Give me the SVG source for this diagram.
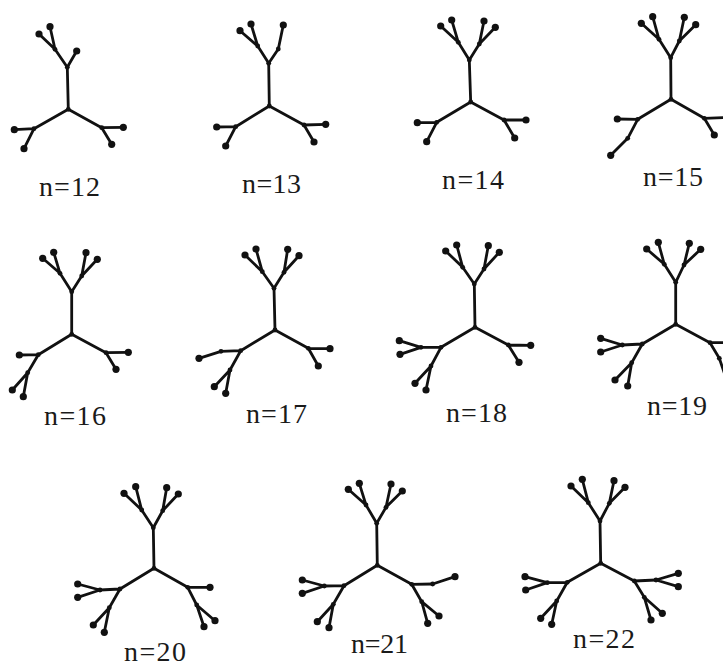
<svg xmlns="http://www.w3.org/2000/svg" width="723" height="666" viewBox="0 0 723 666">
<style>
.e{stroke:#111;stroke-width:2.8;fill:none;stroke-linecap:round;stroke-linejoin:round}
.in circle{fill:#111;r:2.4px}
.lf circle{fill:#111;r:3.6px}
.lbl{font-family:"Liberation Serif","Times New Roman",serif;font-size:28px;fill:#1a1a1a}
</style>
<rect width="723" height="666" fill="#fff"/>
<g id="connectors">
<path class="e" d="M68.3,109.3L67.3,67.3L55,49.3L39,34M55,49.3L50,26.7M67.3,67.3L76.7,51M68.3,109.3L34,128.7L14.3,129.7M34,128.7L24,148.7M68.3,109.3L101.7,127.7L123.3,127.3M101.7,127.7L111.7,144.3"/>
<path class="e" d="M269.3,106L268.7,63.3L257.7,46L240,30.7M257.7,46L251,24M268.7,63.3L278.3,49L283.3,25M269.3,106L235.7,126.7L216.7,127M235.7,126.7L225.7,146M269.3,106L304,125L325.7,124.3M304,125L314,142"/>
<path class="e" d="M470.7,102L469.3,60L458.3,42.3L440.7,26M458.3,42.3L451.7,20M469.3,60L479.3,44L484,21M479.3,44L495.3,27.3M470.7,102L436.7,122.3L417.3,122.7M436.7,122.3L426.7,141.7M470.7,102L504,120L526,120M504,120L514.7,138"/>
<path class="e" d="M671,99.3L670.7,57.7L659,39.3L641.3,23.3M659,39.3L652.7,16.7M670.7,57.7L679.3,41L684.3,17.3M679.3,41L695.7,24.7M671,99.3L637.7,119.3L617.3,119M637.7,119.3L627.7,138.3L610.7,155.3M671,99.3L704.3,118.3L727,117.5M704.3,118.3L714.3,135"/>
<path class="e" d="M71.7,334.3L71.7,291.7L60,273.3L42.7,258.3M60,273.3L53.7,252.3M71.7,291.7L81.7,276L86,252.7M81.7,276L97.3,259.3M71.7,334.3L38.3,354.7L19.3,355M38.3,354.7L27.7,372.7L12.3,390M27.7,372.7L23.3,396.7M71.7,334.3L106,352.7L128.3,352.3M106,352.7L116,369.3"/>
<path class="e" d="M275,330L274,288.3L262.3,271.7L245,255M262.3,271.7L256,249M274,288.3L284,272.3L287.7,249.3M284,272.3L299,255.7M275,330L240.7,350.7L221,351.3L199,358.3M240.7,350.7L230,370L214.3,386.7M230,370L225.7,393.3M275,330L308.3,348.3L330,348.7M308.3,348.3L318.3,366"/>
<path class="e" d="M475,327.3L474.3,284L462.7,267.3L445.7,251M462.7,267.3L456.7,245M474.3,284L484,269L488.3,245.7M484,269L499.3,252.3M475,327.3L441,347.3L421,347.3L399.3,340.7M421,347.3L400,354.3M441,347.3L431,366L415,383.3M431,366L426,390M475,327.3L508.3,345L530.7,345.3M508.3,345L519,362.3"/>
<path class="e" d="M675.7,324.3L675.7,282.3L664.3,264.3L646.7,249M664.3,264.3L658.3,242.3M675.7,282.3L684,265L689.3,243.3M684,265L700.7,249.3M675.7,324.3L642.3,344L622.3,345L600.7,338.3M622.3,345L600.7,352M642.3,344L631.7,362.7L615,380M631.7,362.7L627.7,386M675.7,324.3L710,342.7L732,342.7M710,342.7L719.3,358.3L727,381"/>
<path class="e" d="M154,568.3L153.3,527.7L141.7,510L124,493.3M141.7,510L135.7,486.7M153.3,527.7L162.7,510.7L166.7,487.7M162.7,510.7L178.3,494M154,568.3L120,589L100,590L77.7,584M100,590L77.7,597.3M120,589L109.3,607.7L93.3,625M109.3,607.7L104.3,632.3M154,568.3L187.7,587.3L210,587.3M187.7,587.3L196.7,605L204,626.7M196.7,605L215,620.7"/>
<path class="e" d="M377.3,565.3L376.7,523.3L366,505L348.3,489.3M366,505L359.3,483.3M376.7,523.3L386,507.3L391,484M386,507.3L402.3,491M377.3,565.3L344,585.7L324.3,586L302.3,580M324.3,586L302.3,593.3M344,585.7L333.3,604.3L317.3,621.7M333.3,604.3L329,627.7M377.3,565.3L411.7,584.3L432.7,584L455,576.7M411.7,584.3L421.7,601.7L427.7,623.3M421.7,601.7L439,616"/>
<path class="e" d="M600.7,563.3L600,521L588.3,502.7L571,486M588.3,502.7L582.3,479.3M600,521L609.3,503.3L614,480.7M609.3,503.3L625,487.3M600.7,563.3L567.3,582.3L547.3,582.7L525,576.7M547.3,582.7L525.7,590M567.3,582.3L556.7,601L540.7,618.3M556.7,601L551.7,624.3M600.7,563.3L634.3,581L656,580L678.3,573.3M656,580L678.3,586.7M634.3,581L644.3,597.3L651,620M644.3,597.3L662.3,613.3"/>
</g>
<g id="tree-n12">
<g class="in"><circle cx="68.3" cy="109.3" r="2.4"/><circle cx="67.3" cy="67.3" r="2.4"/><circle cx="55" cy="49.3" r="2.4"/><circle cx="34" cy="128.7" r="2.4"/><circle cx="101.7" cy="127.7" r="2.4"/></g>
<g class="lf"><circle cx="39" cy="34" r="3.6"/><circle cx="50" cy="26.7" r="3.6"/><circle cx="76.7" cy="51" r="3.6"/><circle cx="14.3" cy="129.7" r="3.6"/><circle cx="24" cy="148.7" r="3.6"/><circle cx="123.3" cy="127.3" r="3.6"/><circle cx="111.7" cy="144.3" r="3.6"/></g>
<text class="lbl" x="39" y="196" textLength="61" lengthAdjust="spacing">n=12</text>
</g>
<g id="tree-n13">
<g class="in"><circle cx="269.3" cy="106" r="2.4"/><circle cx="268.7" cy="63.3" r="2.4"/><circle cx="257.7" cy="46" r="2.4"/><circle cx="278.3" cy="49" r="2.4"/><circle cx="235.7" cy="126.7" r="2.4"/><circle cx="304" cy="125" r="2.4"/></g>
<g class="lf"><circle cx="240" cy="30.7" r="3.6"/><circle cx="251" cy="24" r="3.6"/><circle cx="283.3" cy="25" r="3.6"/><circle cx="216.7" cy="127" r="3.6"/><circle cx="225.7" cy="146" r="3.6"/><circle cx="325.7" cy="124.3" r="3.6"/><circle cx="314" cy="142" r="3.6"/></g>
<text class="lbl" x="242" y="193" textLength="59" lengthAdjust="spacing">n=13</text>
</g>
<g id="tree-n14">
<g class="in"><circle cx="470.7" cy="102" r="2.4"/><circle cx="469.3" cy="60" r="2.4"/><circle cx="458.3" cy="42.3" r="2.4"/><circle cx="479.3" cy="44" r="2.4"/><circle cx="436.7" cy="122.3" r="2.4"/><circle cx="504" cy="120" r="2.4"/></g>
<g class="lf"><circle cx="440.7" cy="26" r="3.6"/><circle cx="451.7" cy="20" r="3.6"/><circle cx="484" cy="21" r="3.6"/><circle cx="495.3" cy="27.3" r="3.6"/><circle cx="417.3" cy="122.7" r="3.6"/><circle cx="426.7" cy="141.7" r="3.6"/><circle cx="526" cy="120" r="3.6"/><circle cx="514.7" cy="138" r="3.6"/></g>
<text class="lbl" x="442" y="189" textLength="62" lengthAdjust="spacing">n=14</text>
</g>
<g id="tree-n15">
<g class="in"><circle cx="671" cy="99.3" r="2.4"/><circle cx="670.7" cy="57.7" r="2.4"/><circle cx="659" cy="39.3" r="2.4"/><circle cx="679.3" cy="41" r="2.4"/><circle cx="637.7" cy="119.3" r="2.4"/><circle cx="627.7" cy="138.3" r="2.4"/><circle cx="704.3" cy="118.3" r="2.4"/></g>
<g class="lf"><circle cx="641.3" cy="23.3" r="3.6"/><circle cx="652.7" cy="16.7" r="3.6"/><circle cx="684.3" cy="17.3" r="3.6"/><circle cx="695.7" cy="24.7" r="3.6"/><circle cx="617.3" cy="119" r="3.6"/><circle cx="610.7" cy="155.3" r="3.6"/><circle cx="727" cy="117.5" r="3.6"/><circle cx="714.3" cy="135" r="3.6"/></g>
<text class="lbl" x="643" y="186" textLength="60" lengthAdjust="spacing">n=15</text>
</g>
<g id="tree-n16">
<g class="in"><circle cx="71.7" cy="334.3" r="2.4"/><circle cx="71.7" cy="291.7" r="2.4"/><circle cx="60" cy="273.3" r="2.4"/><circle cx="81.7" cy="276" r="2.4"/><circle cx="38.3" cy="354.7" r="2.4"/><circle cx="27.7" cy="372.7" r="2.4"/><circle cx="106" cy="352.7" r="2.4"/></g>
<g class="lf"><circle cx="42.7" cy="258.3" r="3.6"/><circle cx="53.7" cy="252.3" r="3.6"/><circle cx="86" cy="252.7" r="3.6"/><circle cx="97.3" cy="259.3" r="3.6"/><circle cx="19.3" cy="355" r="3.6"/><circle cx="12.3" cy="390" r="3.6"/><circle cx="23.3" cy="396.7" r="3.6"/><circle cx="128.3" cy="352.3" r="3.6"/><circle cx="116" cy="369.3" r="3.6"/></g>
<text class="lbl" x="44" y="425" textLength="62" lengthAdjust="spacing">n=16</text>
</g>
<g id="tree-n17">
<g class="in"><circle cx="275" cy="330" r="2.4"/><circle cx="274" cy="288.3" r="2.4"/><circle cx="262.3" cy="271.7" r="2.4"/><circle cx="284" cy="272.3" r="2.4"/><circle cx="240.7" cy="350.7" r="2.4"/><circle cx="221" cy="351.3" r="2.4"/><circle cx="230" cy="370" r="2.4"/><circle cx="308.3" cy="348.3" r="2.4"/></g>
<g class="lf"><circle cx="245" cy="255" r="3.6"/><circle cx="256" cy="249" r="3.6"/><circle cx="287.7" cy="249.3" r="3.6"/><circle cx="299" cy="255.7" r="3.6"/><circle cx="199" cy="358.3" r="3.6"/><circle cx="214.3" cy="386.7" r="3.6"/><circle cx="225.7" cy="393.3" r="3.6"/><circle cx="330" cy="348.7" r="3.6"/><circle cx="318.3" cy="366" r="3.6"/></g>
<text class="lbl" x="246" y="423" textLength="61" lengthAdjust="spacing">n=17</text>
</g>
<g id="tree-n18">
<g class="in"><circle cx="475" cy="327.3" r="2.4"/><circle cx="474.3" cy="284" r="2.4"/><circle cx="462.7" cy="267.3" r="2.4"/><circle cx="484" cy="269" r="2.4"/><circle cx="441" cy="347.3" r="2.4"/><circle cx="421" cy="347.3" r="2.4"/><circle cx="431" cy="366" r="2.4"/><circle cx="508.3" cy="345" r="2.4"/></g>
<g class="lf"><circle cx="445.7" cy="251" r="3.6"/><circle cx="456.7" cy="245" r="3.6"/><circle cx="488.3" cy="245.7" r="3.6"/><circle cx="499.3" cy="252.3" r="3.6"/><circle cx="399.3" cy="340.7" r="3.6"/><circle cx="400" cy="354.3" r="3.6"/><circle cx="415" cy="383.3" r="3.6"/><circle cx="426" cy="390" r="3.6"/><circle cx="530.7" cy="345.3" r="3.6"/><circle cx="519" cy="362.3" r="3.6"/></g>
<text class="lbl" x="446" y="422" textLength="61" lengthAdjust="spacing">n=18</text>
</g>
<g id="tree-n19">
<g class="in"><circle cx="675.7" cy="324.3" r="2.4"/><circle cx="675.7" cy="282.3" r="2.4"/><circle cx="664.3" cy="264.3" r="2.4"/><circle cx="684" cy="265" r="2.4"/><circle cx="642.3" cy="344" r="2.4"/><circle cx="622.3" cy="345" r="2.4"/><circle cx="631.7" cy="362.7" r="2.4"/><circle cx="710" cy="342.7" r="2.4"/><circle cx="719.3" cy="358.3" r="2.4"/></g>
<g class="lf"><circle cx="646.7" cy="249" r="3.6"/><circle cx="658.3" cy="242.3" r="3.6"/><circle cx="689.3" cy="243.3" r="3.6"/><circle cx="700.7" cy="249.3" r="3.6"/><circle cx="600.7" cy="338.3" r="3.6"/><circle cx="600.7" cy="352" r="3.6"/><circle cx="615" cy="380" r="3.6"/><circle cx="627.7" cy="386" r="3.6"/><circle cx="732" cy="342.7" r="3.6"/><circle cx="727" cy="381" r="3.6"/></g>
<text class="lbl" x="647" y="415" textLength="60" lengthAdjust="spacing">n=19</text>
</g>
<g id="tree-n20">
<g class="in"><circle cx="154" cy="568.3" r="2.4"/><circle cx="153.3" cy="527.7" r="2.4"/><circle cx="141.7" cy="510" r="2.4"/><circle cx="162.7" cy="510.7" r="2.4"/><circle cx="120" cy="589" r="2.4"/><circle cx="100" cy="590" r="2.4"/><circle cx="109.3" cy="607.7" r="2.4"/><circle cx="187.7" cy="587.3" r="2.4"/><circle cx="196.7" cy="605" r="2.4"/></g>
<g class="lf"><circle cx="124" cy="493.3" r="3.6"/><circle cx="135.7" cy="486.7" r="3.6"/><circle cx="166.7" cy="487.7" r="3.6"/><circle cx="178.3" cy="494" r="3.6"/><circle cx="77.7" cy="584" r="3.6"/><circle cx="77.7" cy="597.3" r="3.6"/><circle cx="93.3" cy="625" r="3.6"/><circle cx="104.3" cy="632.3" r="3.6"/><circle cx="210" cy="587.3" r="3.6"/><circle cx="204" cy="626.7" r="3.6"/><circle cx="215" cy="620.7" r="3.6"/></g>
<text class="lbl" x="124" y="661" textLength="62" lengthAdjust="spacing">n=20</text>
</g>
<g id="tree-n21">
<g class="in"><circle cx="377.3" cy="565.3" r="2.4"/><circle cx="376.7" cy="523.3" r="2.4"/><circle cx="366" cy="505" r="2.4"/><circle cx="386" cy="507.3" r="2.4"/><circle cx="344" cy="585.7" r="2.4"/><circle cx="324.3" cy="586" r="2.4"/><circle cx="333.3" cy="604.3" r="2.4"/><circle cx="411.7" cy="584.3" r="2.4"/><circle cx="432.7" cy="584" r="2.4"/><circle cx="421.7" cy="601.7" r="2.4"/></g>
<g class="lf"><circle cx="348.3" cy="489.3" r="3.6"/><circle cx="359.3" cy="483.3" r="3.6"/><circle cx="391" cy="484" r="3.6"/><circle cx="402.3" cy="491" r="3.6"/><circle cx="302.3" cy="580" r="3.6"/><circle cx="302.3" cy="593.3" r="3.6"/><circle cx="317.3" cy="621.7" r="3.6"/><circle cx="329" cy="627.7" r="3.6"/><circle cx="455" cy="576.7" r="3.6"/><circle cx="427.7" cy="623.3" r="3.6"/><circle cx="439" cy="616" r="3.6"/></g>
<text class="lbl" x="351" y="653" textLength="57" lengthAdjust="spacing">n=21</text>
</g>
<g id="tree-n22">
<g class="in"><circle cx="600.7" cy="563.3" r="2.4"/><circle cx="600" cy="521" r="2.4"/><circle cx="588.3" cy="502.7" r="2.4"/><circle cx="609.3" cy="503.3" r="2.4"/><circle cx="567.3" cy="582.3" r="2.4"/><circle cx="547.3" cy="582.7" r="2.4"/><circle cx="556.7" cy="601" r="2.4"/><circle cx="634.3" cy="581" r="2.4"/><circle cx="656" cy="580" r="2.4"/><circle cx="644.3" cy="597.3" r="2.4"/></g>
<g class="lf"><circle cx="571" cy="486" r="3.6"/><circle cx="582.3" cy="479.3" r="3.6"/><circle cx="614" cy="480.7" r="3.6"/><circle cx="625" cy="487.3" r="3.6"/><circle cx="525" cy="576.7" r="3.6"/><circle cx="525.7" cy="590" r="3.6"/><circle cx="540.7" cy="618.3" r="3.6"/><circle cx="551.7" cy="624.3" r="3.6"/><circle cx="678.3" cy="573.3" r="3.6"/><circle cx="678.3" cy="586.7" r="3.6"/><circle cx="651" cy="620" r="3.6"/><circle cx="662.3" cy="613.3" r="3.6"/></g>
<text class="lbl" x="573" y="648" textLength="62" lengthAdjust="spacing">n=22</text>
</g>
</svg>
